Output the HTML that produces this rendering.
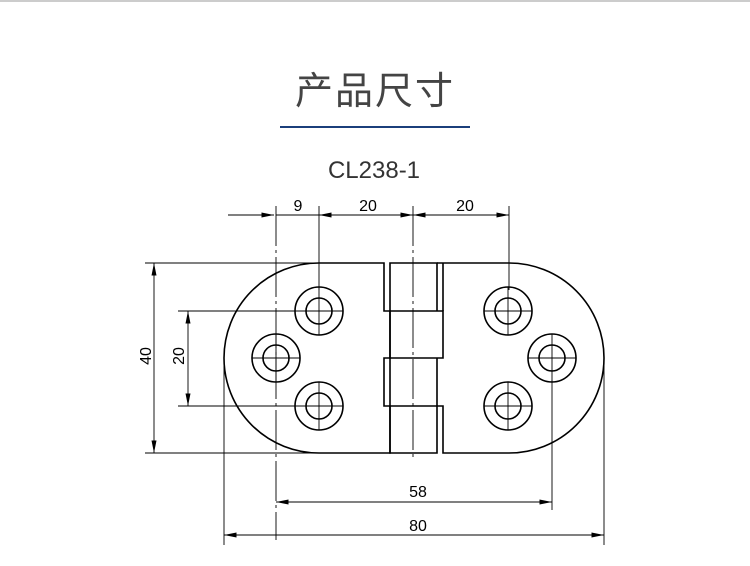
<!DOCTYPE html>
<html><head><meta charset="utf-8"><style>
body{margin:0;width:750px;height:561px;background:#fff;overflow:hidden;font-family:"Liberation Sans","Noto Sans CJK SC",sans-serif}
</style></head><body>
<svg width="750" height="561" viewBox="0 0 750 561" xmlns="http://www.w3.org/2000/svg">
<defs>
<marker id="a" viewBox="0 0 10 4" refX="10" refY="2" markerWidth="13" markerHeight="5" markerUnits="userSpaceOnUse" orient="auto-start-reverse"><path d="M0,0L10,2L0,4z" fill="#000"/></marker>
</defs>
<line x1="0" y1="1" x2="750" y2="1" stroke="#ccc" stroke-width="2"/>
<text x="375" y="104" font-size="38" fill="#444" text-anchor="middle" font-family="Noto Sans CJK SC,sans-serif" letter-spacing="2">产品尺寸</text>
<line x1="280" y1="127" x2="470" y2="127" stroke="#1b3f7b" stroke-width="2"/>
<text x="374" y="178" font-size="24" fill="#333" text-anchor="middle">CL238-1</text>
<g fill="none" stroke="#000" stroke-width="1.6">
<path d="M384,263 H319 A95,95 0 0 0 319,453 H390 V406 H384 V358 H390 V311 H384 Z"/>
<path d="M390,263 H437 V311 H390 Z M390,311 H443 V358 H390 Z M390,358 H437 V406 H390 Z M390,406 H437 V453 H390 Z"/>
<path d="M437,263 H509 A95,95 0 0 1 509,453 H443 V406 H437 M443,311 V263"/>
<g>
<circle cx="319" cy="311" r="24"/><circle cx="319" cy="311" r="13"/>
<circle cx="276" cy="358" r="24"/><circle cx="276" cy="358" r="13"/>
<circle cx="319" cy="406" r="24"/><circle cx="319" cy="406" r="13"/>
<circle cx="508" cy="311" r="24"/><circle cx="508" cy="311" r="13"/>
<circle cx="552" cy="358" r="24"/><circle cx="552" cy="358" r="13"/>
<circle cx="508" cy="406" r="24"/><circle cx="508" cy="406" r="13"/>
</g>
</g>
<g stroke="#000" stroke-width="0.9" fill="none">
<path d="M295,311H343M319,287V335M252,358H300M276,334V382M295,406H343M319,382V430M484,311H532M508,287V335M528,358H576M552,334V382M484,406H532M508,382V430"/>
<path d="M319,206V290M509,206V290M552,380V510M604,360V545M224,360V545M145,263H320M145,453H320M178,311H300M178,406H300"/>
<path d="M276,206V540M413,206V460" stroke-dasharray="40,4,3,4"/>
<line x1="228" y1="215" x2="274" y2="215" marker-end="url(#a)"/>
<line x1="276" y1="215" x2="319" y2="215"/>
<line x1="366" y1="215" x2="319" y2="215" marker-end="url(#a)"/>
<line x1="366" y1="215" x2="413" y2="215" marker-end="url(#a)"/>
<line x1="440" y1="215" x2="413" y2="215" marker-end="url(#a)"/>
<line x1="440" y1="215" x2="509" y2="215" marker-end="url(#a)"/>
<line x1="154" y1="358" x2="154" y2="263" marker-end="url(#a)"/>
<line x1="154" y1="358" x2="154" y2="453" marker-end="url(#a)"/>
<line x1="188" y1="358" x2="188" y2="311" marker-end="url(#a)"/>
<line x1="188" y1="358" x2="188" y2="406" marker-end="url(#a)"/>
<line x1="414" y1="502" x2="276" y2="502" marker-end="url(#a)"/>
<line x1="414" y1="502" x2="552" y2="502" marker-end="url(#a)"/>
<line x1="414" y1="535" x2="224" y2="535" marker-end="url(#a)"/>
<line x1="414" y1="535" x2="604" y2="535" marker-end="url(#a)"/>
</g>
<g font-size="16" fill="#000" text-anchor="middle">
<text x="298" y="211">9</text>
<text x="368" y="211">20</text>
<text x="465" y="211">20</text>
<text x="418" y="497">58</text>
<text x="418" y="531">80</text>
<text transform="translate(151,356) rotate(-90)">40</text>
<text transform="translate(184,356) rotate(-90)">20</text>
</g>
</svg>
</body></html>
